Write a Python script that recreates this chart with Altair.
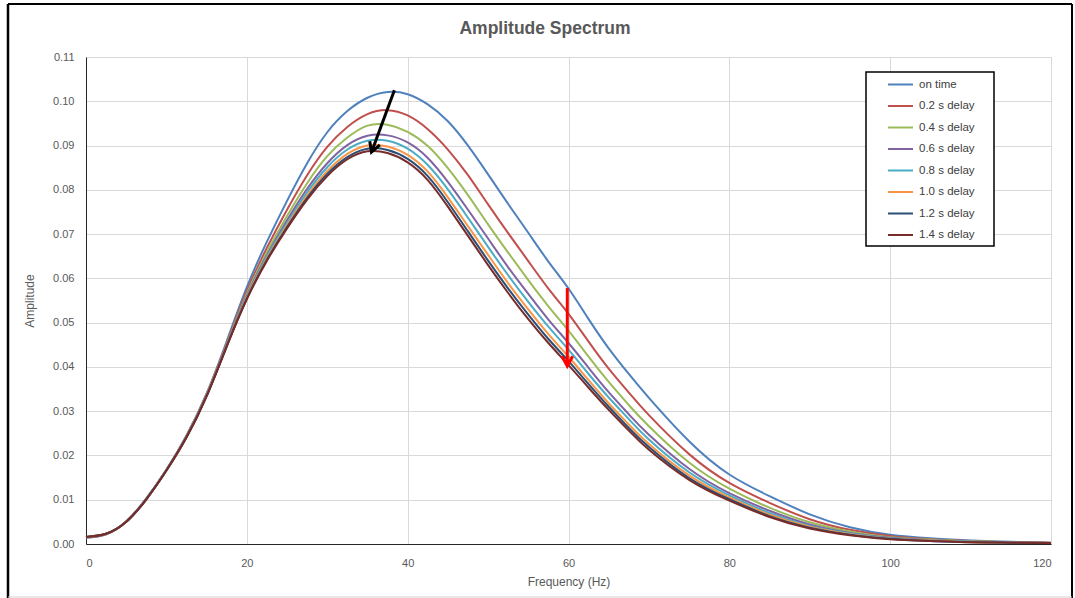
import altair as alt
import pandas as pd

freq = [0, 2.5, 5, 7.5, 10, 12.5, 15, 17.5, 20, 22.5, 25, 27.5, 30, 32.5, 35, 37.5,
        40, 42.5, 45, 47.5, 50, 52.5, 55, 57.5, 60, 62.5, 65, 67.5, 70, 75, 80, 85,
        90, 95, 100, 105, 110, 115, 120]

series_names = ["on time", "0.2 s delay", "0.4 s delay", "0.6 s delay",
                "0.8 s delay", "1.0 s delay", "1.2 s delay", "1.4 s delay"]
series_colors = ["#4F81BD", "#C0504D", "#9BBB59", "#8064A2",
                 "#4BACC6", "#F79646", "#2C4D75", "#772C2A"]

on_time = [0.0014, 0.0022, 0.0051, 0.0103, 0.0168, 0.0245, 0.0340, 0.0458, 0.0580, 0.0683,
           0.0775, 0.0860, 0.0930, 0.0978, 0.1008, 0.1021, 0.1016, 0.0993, 0.0955, 0.0900,
           0.0835, 0.0768, 0.0703, 0.0638, 0.0577, 0.0508, 0.0442, 0.0384, 0.0330, 0.0232,
           0.0157, 0.0108, 0.0067, 0.0038, 0.0021, 0.0013, 0.0008, 0.0005, 0.0003]
delay_02 = [0.0015, 0.0022, 0.0051, 0.0102, 0.0167, 0.0244, 0.0338, 0.0454, 0.0571, 0.0669,
            0.0755, 0.0833, 0.0897, 0.0942, 0.0971, 0.0980, 0.0968, 0.0937, 0.0891, 0.0833,
            0.0767, 0.0702, 0.0639, 0.0577, 0.0520, 0.0457, 0.0396, 0.0342, 0.0291, 0.0203,
            0.0138, 0.0093, 0.0056, 0.0032, 0.0018, 0.0011, 0.0007, 0.0004, 0.0003]
delay_04 = [0.0015, 0.0023, 0.0050, 0.0102, 0.0167, 0.0243, 0.0337, 0.0451, 0.0565, 0.0659,
            0.0741, 0.0815, 0.0876, 0.0918, 0.0945, 0.0947, 0.0931, 0.0899, 0.0849, 0.0788,
            0.0722, 0.0658, 0.0596, 0.0537, 0.0482, 0.0423, 0.0366, 0.0314, 0.0266, 0.0184,
            0.0125, 0.0082, 0.0049, 0.0028, 0.0015, 0.0010, 0.0006, 0.0004, 0.0002]
delay_06 = [0.0015, 0.0023, 0.0050, 0.0102, 0.0167, 0.0242, 0.0336, 0.0449, 0.0561, 0.0652,
            0.0731, 0.0802, 0.0860, 0.0901, 0.0922, 0.0923, 0.0907, 0.0872, 0.0818, 0.0755,
            0.0690, 0.0625, 0.0565, 0.0507, 0.0454, 0.0398, 0.0343, 0.0293, 0.0247, 0.0170,
            0.0115, 0.0075, 0.0044, 0.0025, 0.0014, 0.0009, 0.0005, 0.0004, 0.0002]
delay_08 = [0.0016, 0.0023, 0.0050, 0.0101, 0.0166, 0.0242, 0.0335, 0.0448, 0.0558, 0.0649,
            0.0725, 0.0794, 0.0851, 0.0891, 0.0911, 0.0911, 0.0893, 0.0856, 0.0801, 0.0737,
            0.0671, 0.0607, 0.0547, 0.0491, 0.0439, 0.0384, 0.0331, 0.0282, 0.0236, 0.0162,
            0.0110, 0.0070, 0.0041, 0.0024, 0.0013, 0.0008, 0.0005, 0.0003, 0.0002]
delay_10 = [0.0016, 0.0023, 0.0050, 0.0101, 0.0166, 0.0241, 0.0335, 0.0447, 0.0556, 0.0645,
            0.0720, 0.0787, 0.0842, 0.0881, 0.0900, 0.0898, 0.0879, 0.0841, 0.0783, 0.0718,
            0.0653, 0.0589, 0.0530, 0.0474, 0.0423, 0.0370, 0.0318, 0.0270, 0.0226, 0.0155,
            0.0105, 0.0066, 0.0039, 0.0022, 0.0012, 0.0008, 0.0004, 0.0003, 0.0002]
delay_12 = [0.0016, 0.0023, 0.0050, 0.0101, 0.0166, 0.0241, 0.0334, 0.0447, 0.0554, 0.0642,
            0.0716, 0.0782, 0.0836, 0.0874, 0.0893, 0.0890, 0.0870, 0.0831, 0.0772, 0.0706,
            0.0640, 0.0577, 0.0518, 0.0463, 0.0413, 0.0361, 0.0310, 0.0262, 0.0219, 0.0149,
            0.0101, 0.0063, 0.0037, 0.0021, 0.0012, 0.0007, 0.0004, 0.0003, 0.0002]
delay_14 = [0.0016, 0.0023, 0.0050, 0.0101, 0.0166, 0.0241, 0.0334, 0.0446, 0.0553, 0.0640,
            0.0713, 0.0778, 0.0831, 0.0869, 0.0887, 0.0883, 0.0862, 0.0822, 0.0762, 0.0696,
            0.0630, 0.0567, 0.0508, 0.0454, 0.0404, 0.0353, 0.0303, 0.0256, 0.0213, 0.0145,
            0.0098, 0.0061, 0.0035, 0.0020, 0.0011, 0.0007, 0.0004, 0.0003, 0.0002]

all_series = [on_time, delay_02, delay_04, delay_06, delay_08, delay_10, delay_12, delay_14]

# annotation arrows (data coordinates)
arrow_x_start = [38.35, 59.85]
arrow_y_start = [0.1025, 0.0578]
arrow_x_end = [35.5, 59.85]
arrow_y_end = [0.0885, 0.0402]
arrow_color = ["#000000", "#FF0000"]
arrow_angle = [20, 0]

x_ticks = [0, 20, 40, 60, 80, 100, 120]
y_ticks = [0.0, 0.01, 0.02, 0.03, 0.04, 0.05, 0.06, 0.07, 0.08, 0.09, 0.10, 0.11]

chart_title = "Amplitude Spectrum"

rows = []
for name, vals in zip(series_names, all_series):
    for f, v in zip(freq, vals):
        rows.append({"freq": f, "amp": v, "series": name})
df = pd.DataFrame(rows)

arrows = pd.DataFrame({
    "x0": arrow_x_start, "y0": arrow_y_start,
    "x1": arrow_x_end, "y1": arrow_y_end,
    "c": arrow_color, "ang": arrow_angle,
})

FONT = "Liberation Sans"
TXT = "#595959"
GRID = "#D9D9D9"

x_enc = alt.X("freq:Q", scale=alt.Scale(domain=[0, 120], nice=False, zero=False),
              axis=alt.Axis(values=x_ticks, title="Frequency (Hz)", grid=True,
                            gridColor=GRID, ticks=False, labelPadding=13,
                            domainColor="#262626", labelColor=TXT, titleColor=TXT,
                            labelFontSize=11, titleFontSize=12, titleFontWeight="normal",
                            titlePadding=8, labelFont=FONT, titleFont=FONT))
y_enc = alt.Y("amp:Q", scale=alt.Scale(domain=[0, 0.11], nice=False),
              axis=alt.Axis(values=y_ticks, format=".2f", title="Amplitude", grid=True,
                            gridColor=GRID, ticks=False, labelPadding=12,
                            domainColor="#262626", labelColor=TXT, titleColor=TXT,
                            labelFontSize=11, titleFontSize=12, titleFontWeight="normal",
                            titlePadding=16, labelFont=FONT, titleFont=FONT))

lines = alt.Chart(df).mark_line(strokeWidth=2, interpolate="natural").encode(
    x=x_enc,
    y=y_enc,
    color=alt.Color("series:N",
                    scale=alt.Scale(domain=series_names, range=series_colors),
                    sort=series_names,
                    legend=alt.Legend(title=None, orient="none", legendX=789, legendY=14,
                                      direction="vertical", symbolType="stroke",
                                      symbolSize=625, symbolStrokeWidth=2,
                                      labelFont=FONT, labelFontSize=11.5,
                                      labelColor="#404040", padding=0, rowPadding=2.5,
                                      labelOffset=5, symbolOffset=12)),
    detail="series:N",
)

arrow_lines = alt.Chart(arrows).mark_rule(strokeWidth=3).encode(
    x="x0:Q", y="y0:Q", x2="x1:Q", y2="y1:Q",
    stroke=alt.Stroke("c:N", scale=None),
)
arrow_heads = alt.Chart(arrows).mark_point(
    shape="M -0.55 -1 L 0 0 L 0.55 -1", filled=False, strokeWidth=3, size=380, opacity=1
).encode(
    x="x1:Q", y="y1:Q",
    stroke=alt.Stroke("c:N", scale=None),
    angle=alt.Angle("ang:Q", scale=None),
)

dummy = alt.InlineData(values=[{"k": 1}])
def edge(x, x2, y, y2, color, w):
    return alt.Chart(dummy).mark_rule(color=color, strokeWidth=w).encode(
        x=alt.value(x), x2=alt.value(x2), y=alt.value(y), y2=alt.value(y2))

frame = [
    edge(-78, -78, -53, 541, "#000000", 2.5),
    edge(-78, 986, -53, -53, "#000000", 2),
    edge(986, 986, -53, 541, "#000000", 2),
    edge(-78, 986, 540, 540, "#D0D0D0", 1),
]

legend_box = alt.Chart(dummy).mark_rect(fill="#FFFFFF", stroke="#000000", strokeWidth=1.5).encode(
    x=alt.value(780), x2=alt.value(908), y=alt.value(15), y2=alt.value(189))

title_text = alt.Chart(dummy).mark_text(
    text=chart_title, font=FONT, fontSize=17.5, fontWeight="bold", color=TXT,
    align="center", baseline="middle"
).encode(x=alt.value(459), y=alt.value(-28))

chart = alt.layer(lines, arrow_lines, arrow_heads, legend_box, title_text, *frame).properties(
    width=965, height=487,
    autosize=alt.AutoSizeParams(type="none"),
    padding={"left": 86, "top": 57, "right": 24, "bottom": 54},
    background="#FFFFFF",
).configure_view(strokeWidth=0).configure(font=FONT)

chart.save("out.html", embed_options={"renderer": "svg", "actions": False})
